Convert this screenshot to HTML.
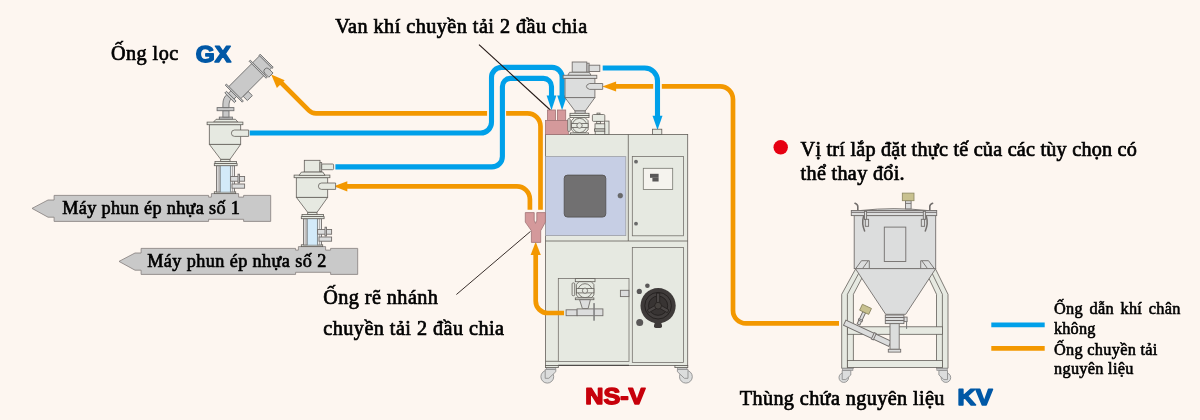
<!DOCTYPE html>
<html lang="vi">
<head>
<meta charset="utf-8">
<title>NS-V</title>
<style>
html,body{margin:0;padding:0;background:#fdf6f0;}
body{width:1200px;height:420px;overflow:hidden;position:relative;}
svg{display:block;position:absolute;left:0;top:0;}
text{font-family:"Liberation Serif",serif;fill:#000;}
.t{stroke:#000;stroke-width:.7px;}
.s21{font-size:20.2px;letter-spacing:.4px;}
.s19{font-size:18.2px;letter-spacing:.36px;stroke-width:.65px;}
.s17{font-size:16.3px;letter-spacing:.3px;stroke-width:.6px;}
.brand{font-family:"Liberation Sans",sans-serif;font-weight:700;font-size:23px;stroke-linejoin:round;text-rendering:geometricPrecision;}
.blue{fill:#0058a6;stroke:#0058a6;stroke-width:1.5px;}
.red{fill:#c7000b;stroke:#c7000b;stroke-width:1.5px;}
.pb{fill:none;stroke:#00a0e9;stroke-width:5.1;}
.po{fill:none;stroke:#f39800;stroke-width:4.7;}
.ab{fill:#00a0e9;}
.ao{fill:#f39800;}
.m{fill:#e6e9e1;stroke:#625e59;stroke-width:.8;}
.mp{stroke:#6e6a65;stroke-width:.75;}
.w{fill:#dcdddd;stroke:#8f8f8f;stroke-width:.9;}
.w2{fill:#c4c4c4;stroke:#8f8f8f;stroke-width:.7;}
.g{fill:#dcdddd;stroke:#726e6c;stroke-width:.9;}
.d{fill:#c9c9c9;stroke:#6f6f6f;stroke-width:.9;}
.bar{fill:#c9c9c9;stroke:#847e7c;stroke-width:.8;}
.pk{fill:#d4999b;stroke:#a07476;stroke-width:.8;}
.gl{fill:#d3eaf9;stroke:#808a90;stroke-width:.7;}
.ln{stroke:#231815;stroke-width:1.1;fill:none;}
</style>
</head>
<body>
<svg width="1200" height="420" viewBox="0 0 1200 420">
<defs><filter id="aa" filterUnits="userSpaceOnUse" x="0" y="0" width="1200" height="420" color-interpolation-filters="sRGB"><feOffset dx="0" dy="0"/></filter></defs>
<rect width="1200" height="420" fill="#fdf6f0"/>

<!-- ORANGE PIPES (below blue) -->
<g id="orange">
  <!-- to GX filter -->
  <path class="po" d="M540.500 209.800 V126.300 A13 13 0 0 0 527.500 113.300 H506.100"/>
  <path class="po" d="M487.100 113.300 H316 Q311.800 113.300 308.800 110.300 L279.500 81"/>
  <polygon class="ao" points="271.200,74.500 284.700,80.200 276.900,88"/>
  <!-- to loader 2 -->
  <path class="po" d="M529.900 209.800 V199.300 A13 13 0 0 0 516.900 186.300 H345"/>
  <polygon class="ao" points="333.800,186.300 347.300,181.200 347.300,191.400"/>
  <!-- from tank to hopper -->
  <path class="po" d="M839 323.400 H746 A13 13 0 0 1 733 310.400 V99.400 A13 13 0 0 0 720 86.400 H661.800"/>
  <path class="po" d="M653.200 86.400 H614"/>
  <polygon class="ao" points="602.200,86.400 616.100,81.400 616.100,91.400"/>
</g>

<!-- BLUE PIPES -->
<g id="bluepipes">
  <path class="pb" d="M249.700 133 H480.700 A10.800 10.800 0 0 0 491.500 122.200 V77.400 A10 10 0 0 1 501.500 67.400 H552.100 A10 10 0 0 1 562.100 77.400 V98"/>
  <polygon class="ab" points="562.100,110.200 557.200,95.400 567,95.400"/>
  <path class="pb" d="M335.400 166.900 H491.900 A10.500 10.500 0 0 0 502.400 156.400 V86.400 A8 8 0 0 1 510.400 78.400 H543.500 A8 8 0 0 1 551.500 86.400 V98"/>
  <polygon class="ab" points="551.500,110.200 546.600,95.400 556.400,95.400"/>
  <path class="pb" d="M602.700 68 H644.700 A12.800 12.800 0 0 1 657.500 80.800 V117"/>
  <polygon class="ab" points="657.500,130 652.500,115.800 662.500,115.800"/>
</g>

<!-- leader lines -->
<line class="ln" x1="479" y1="44.600" x2="550.300" y2="110"/>
<line class="ln" x1="456.400" y1="294.500" x2="530.500" y2="231.400" style="stroke-width:.9"/>

<!-- INJECTION MACHINE BARS -->
<g id="bar1">
  <path class="bar" d="M32 208.400 L48 200 H54.100 V195.400 H208.600 V197.100 H211.400 V193.600 H238.600 V197.100 H243.600 V195.400 H270.700 V221.400 H243.600 V219.300 H208.600 V221.400 H54.100 V217.200 H48 Z"/>
</g>
<use href="#bar1" x="87" y="53"/>

<!-- LOADER (shared lower part) -->
<g id="loader">
  <rect class="m" x="214.300" y="191.800" width="21.400" height="1.800"/>
  <rect class="g" x="216.500" y="165.700" width="3.500" height="26.300" style="fill:#e9e9e9"/>
  <rect class="g" x="230.500" y="165.700" width="4" height="26.300" style="fill:#e9e9e9"/>
  <path d="M218.200 165.700 V192 M232.500 165.700 V192" stroke="#8d8986" stroke-width=".6" fill="none"/>
  <rect class="gl" x="220.400" y="165.700" width="9.900" height="26.400"/>
  <rect class="g" x="230.600" y="176.500" width="14" height="4.700"/>
  <rect class="g" x="238" y="174.200" width="1.500" height="8.800"/>
  <rect class="g" x="232" y="184" width="12.600" height="4.200"/>
  <rect class="m" x="215" y="161.400" width="21.400" height="2.200"/>
  <rect class="m" x="214.300" y="163.600" width="22.800" height="2.100"/>
  <rect class="m" x="220.700" y="159.300" width="9.300" height="2.100"/>
  <polygon class="m" points="209.300,144.300 240.700,144.300 230,159.300 220.700,159.300"/>
  <rect class="m" x="209.300" y="124.700" width="31.400" height="19.600"/>
  <polygon class="m" points="213.600,122.100 216,119.300 235.500,119.300 237.900,122.100"/>
  <rect class="m" x="207.100" y="122.100" width="35.800" height="2.600"/>
  <path class="m" d="M248.600 130 H234.600 A3.200 3.200 0 0 0 234.600 136.400 H248.600 Z"/>
</g>
<use href="#loader" x="87" y="53"/>

<!-- loader 1 top: elbow + GX filter -->
<g id="gxfilter">
  <rect class="d" x="219.300" y="117.100" width="13.100" height="2"/>
  <rect class="d" x="222.900" y="110.700" width="6.100" height="6.400"/>
  <rect class="d" x="217.100" y="107.600" width="16.800" height="3.100"/>
  <path class="d" d="M222.900 107.600 V104 Q222.900 97.500 227.600 93.800 L232 98.200 Q229 100.500 229 104 V107.600 Z"/>
  <g transform="translate(234.300,93.100) rotate(-45)">
    <rect class="d" x="-4.500" y="-4" width="4.500" height="8"/>
    <rect class="d" x="-6.600" y="-6.800" width="2.300" height="13.600"/>
    <rect class="d" x="4" y="8.500" width="7" height="6"/>
    <rect class="d" x="0" y="-8.500" width="45" height="17"/>
    <path class="d" d="M35.600 13.200 V7.500 A3 3 0 0 1 41.600 7.500 V13.200 Z"/>
    <rect class="d" x="-0.800" y="-12" width="1.600" height="24"/>
    <rect class="d" x="33" y="-12" width="1.600" height="24"/>
    <rect class="d" x="44.200" y="-9.200" width="1.600" height="18.400"/>
  </g>
</g>

<!-- loader 2 top: motor -->
<g id="motor2">
  <rect class="m" x="304.300" y="160.300" width="15.700" height="11.800"/>
  <rect class="m" x="320" y="162.600" width="1.700" height="8.800"/>
  <rect class="m" x="321.700" y="164" width="11.900" height="5.700" rx="1"/>
  <polygon class="m" points="299,175.400 301.400,172.100 322.900,172.100 325,175.400"/>
</g>

<!-- MACHINE NS-V -->
<g id="machine">
  <rect class="m" x="545.600" y="134.400" width="142.100" height="231.100"/>
  <line class="m" x1="545.600" y1="241" x2="687.700" y2="241"/>
  <line class="m" x1="628.300" y1="134.400" x2="628.300" y2="241"/>
  <rect x="545.600" y="156.600" width="80.200" height="79" fill="#c6cee4" stroke="#9c9ea6" stroke-width=".8"/>
  <rect x="564.200" y="175.100" width="41.600" height="42" rx="3.300" fill="#717071" stroke="#4f4c4b" stroke-width=".8"/>
  <circle cx="620.300" cy="195.700" r="2.400" fill="#6a6a6a" stroke="#444" stroke-width=".4"/>
  <rect class="m mp" x="632.300" y="156.600" width="51.100" height="79.200"/>
  <rect x="643.300" y="168.300" width="29.400" height="21.200" fill="#f5f3ee" stroke="#77776f" stroke-width=".8"/>
  <rect x="650" y="173.800" width="8.600" height="4" fill="#595757"/>
  <rect x="652.400" y="177.800" width="6.200" height="3.700" fill="#595757"/>
  <circle cx="636" cy="161.700" r="1.900" fill="#6a6a6a"/>
  <circle cx="636" cy="223.700" r="1.900" fill="#6a6a6a"/>
  <rect class="m mp" x="632.300" y="247.400" width="51.300" height="115"/>
  <rect class="m mp" x="558.300" y="278.400" width="70.700" height="83"/>
  <line class="m" x1="545.600" y1="361.300" x2="558.100" y2="361.300"/>
  <line x1="558.100" y1="365.300" x2="629" y2="365.300" stroke="#4f4b49" stroke-width="1.200"/>
  <rect class="m" x="652.500" y="129.200" width="9.300" height="5.200"/>
  <!-- blower -->
  <rect x="654.600" y="319" width="6.800" height="6.500" fill="#3e3a39"/>
  <rect x="654" y="323.800" width="8" height="4.200" rx="1.800" fill="#3e3a39"/>
  <circle cx="658.100" cy="305.700" r="17.600" fill="#3e3a39"/>
  <circle cx="658.100" cy="305.700" r="13.300" fill="#423e3d" stroke="#231f1e" stroke-width=".9"/>
  <circle cx="658.100" cy="305.700" r="9.600" fill="#383433" stroke="#231f1e" stroke-width=".9"/>
  <path d="M656.500 302.500 V293.200 H659.700 V302.500 M655.300 305.300 L647.300 309.900 L648.900 312.700 L656.900 308.100 M660.900 305.300 L668.900 309.900 L667.300 312.700 L659.300 308.100" fill="#4a4645" stroke="#231f1e" stroke-width=".8"/>
  <circle cx="658.100" cy="305.700" r="3.400" fill="#46423f" stroke="#231f1e" stroke-width=".8"/>
  <circle cx="639.300" cy="291.400" r="2.600" fill="#595757"/>
  <circle cx="647.400" cy="285.700" r="2.300" fill="#595757"/>
  <circle cx="639.700" cy="322.600" r="3.500" fill="#595757"/>
  <rect class="g" x="620.400" y="290.300" width="8.500" height="6.300"/>
  <!-- casters -->
  <g id="mcaster">
    <circle class="w" cx="547.300" cy="376.700" r="6.400"/>
    <path class="w" d="M545.200 369.400 H555.800 V371.700 L548.800 378.300 H545.200 Z"/>
    <rect class="w2" x="546.300" y="367.600" width="9.500" height="1.800"/>
    <rect class="m" x="545.400" y="365.500" width="12.900" height="2.100"/>
  </g>
  <use href="#mcaster" transform="translate(1233.200,0) scale(-1,1)"/>
</g>

<!-- orange from machine to splitter -->
<path class="po" d="M564 313 H547.700 A12 12 0 0 1 535.700 301 V253"/>
<polygon class="ao" points="535.700,241.800 540.800,255 530.600,255"/>

<!-- PINK VALVE + SPLITTER -->
<g id="pink">
  <rect class="pk" x="547.500" y="110" width="8" height="10.800"/>
  <rect class="pk" x="557.400" y="110" width="8.300" height="10.800"/>
  <rect class="pk" x="545.600" y="120.400" width="22.700" height="14.100"/>
  <path class="pk" d="M525.300 212.600 H534.200 V220.200 L535.500 223.400 L536.800 220.200 V212.600 H545.400 V222.100 L540.700 230.700 V242.400 H531.400 V230.700 L525.300 222.100 Z"/>
</g>

<!-- HOPPER ON MACHINE -->
<g id="hopper3">
  <rect class="g" x="586.800" y="63.200" width="2.300" height="8.900"/>
  <rect class="g" x="572.200" y="62" width="14.600" height="10.200"/>
  <rect class="g" x="589.100" y="65.200" width="10.700" height="6.300"/>
  <polygon class="g" points="567.800,75.300 569.500,72.300 589.300,72.300 591,75.300"/>
  <rect class="g" x="563.100" y="75.300" width="33.700" height="3.100"/>
  <rect class="g" x="565" y="78.400" width="29.900" height="19.200"/>
  <polygon class="g" points="565,97.600 594.900,97.600 585.200,111 575,111"/>
  <rect class="g" x="575" y="111" width="10.200" height="2.300"/>
  <path class="g" d="M602.700 83.500 H589.600 Q586.400 84.500 586.400 86.450 Q586.400 88.400 589.600 89.400 H602.700 Z"/>
  <!-- rotary valve -->
  <rect class="m" x="567.800" y="118.600" width="2.400" height="12.800" rx="1"/>
  <rect class="m" x="570" y="113.300" width="19" height="2.200"/>
  <rect class="m" x="570" y="115.500" width="19" height="2.100"/>
  <path class="m" d="M574.500 117.600 H585 L588.100 120.700 V129.800 L585 132.900 H574.500 L571.400 129.800 V120.700 Z"/>
  <circle class="m" cx="579.500" cy="125.500" r="7.100"/>
  <rect class="m" x="571.400" y="123.600" width="16.700" height="3.900"/>
  <circle class="m" cx="579.500" cy="125.500" r="2.700"/>
  <rect class="m" x="570.300" y="132.900" width="18.300" height="1.600"/>
  <!-- solenoid -->
  <rect class="m" x="604.500" y="121.100" width="4.500" height="13.300"/>
  <rect class="m" x="597" y="113.100" width="3" height="1.600"/>
  <rect class="m" x="592.400" y="114.500" width="12.400" height="6.900" rx="1.200"/>
  <rect class="m" x="596.700" y="121.400" width="3.800" height="2.400"/>
  <rect class="m" x="595" y="123.800" width="9.800" height="5.200"/>
  <rect class="m" x="594.500" y="129" width="10.300" height="2.200"/>
  <rect class="m" x="595.200" y="131.200" width="9.600" height="3.200"/>
</g>

<!-- LOWER VALVE IN MACHINE -->
<g id="lowervalve">
  <rect class="m" x="572.100" y="282.900" width="2.600" height="12.800" rx="1"/>
  <rect class="m" x="575.300" y="278.600" width="19.700" height="3.100"/>
  <path class="m" d="M579 281.700 H591.300 L593.900 284.500 V295 L591.300 297.900 H579 L576.400 295 V284.500 Z"/>
  <circle class="m" cx="585" cy="290.700" r="7"/>
  <rect class="m" x="576.400" y="288.600" width="17.500" height="4.300"/>
  <circle class="m" cx="585" cy="290.700" r="2.600"/>
  <rect class="m" x="575.300" y="297.900" width="18.600" height="1.800"/>
  <polygon class="g" points="579.600,299.700 590.400,299.700 588.100,308.600 582.400,308.600"/>
  <rect class="g" x="566.100" y="309.800" width="11" height="5.900"/>
  <rect class="g" x="577.100" y="308.900" width="25.800" height="6.800"/>
  <rect x="593.300" y="303.100" width="1.500" height="17.600" fill="#7d7d7d"/>
</g>

<!-- TANK KV -->
<g id="tank">
  <!-- frame legs -->
  <path class="m" d="M841.700 368.300 V294.300 L855.400 269.300 H866.500 L853.400 294.300 V368.300 Z"/>
  <path class="m" d="M847.400 368.300 V294.300 L860.900 269.300" style="fill:none"/>
  <path class="m" d="M948 368.300 V294.300 L935.700 269.300 H924.600 L936.500 294.300 V368.300 Z"/>
  <path class="m" d="M942.400 368.300 V294.300 L930.200 269.300" style="fill:none"/>
  <rect class="m" x="847.400" y="326.800" width="95" height="7.500"/>
  <rect class="m" x="847.400" y="360.500" width="95" height="7"/>
  <!-- casters -->
  <g id="tcaster">
    <circle class="w" cx="843.800" cy="377.600" r="4.800"/>
    <path class="w" d="M842.200 370.400 H850.800 V375 L845.800 379.600 H842.200 Z"/>
    <rect class="w2" x="842.500" y="368.300" width="10.400" height="2.100"/>
  </g>
  <use href="#tcaster" transform="translate(1789.700,0) scale(-1,1)"/>
  <!-- body -->
  <path class="g" d="M860.700 210.500 Q894 206.800 927.500 210.500 Z"/>
  <rect class="g" x="905.500" y="200.700" width="5.600" height="8.200"/>
  <line class="g" x1="905.500" y1="203.400" x2="911.100" y2="203.400"/>
  <rect x="902.300" y="193.100" width="11.700" height="7.600" fill="#c8c18f" stroke="#8a8560" stroke-width=".8"/>
  <path d="M857.800 210.500 V206.500 Q857.800 204.500 855 203.300 M929.800 210.500 V206.500 Q929.800 204.500 932.600 203.300" fill="none" stroke="#726e6c" stroke-width="1.600" stroke-linecap="round"/>
  <rect class="g" x="854.200" y="215.600" width="81.500" height="53"/>
  <rect class="g" x="851.300" y="210.500" width="85.400" height="5.100"/>
  <line x1="851.300" y1="212.300" x2="936.700" y2="212.300" stroke="#6f6a69" stroke-width="1"/>
  <rect class="g" x="884.300" y="227.100" width="21.500" height="34.400"/>
  <!-- latches -->
  <g id="latch">
    <path d="M863.600 216.300 Q861.400 223.500 864.600 231" fill="none" stroke="#726e6c" stroke-width="1.500" stroke-linecap="round"/>
    <rect class="g" x="864.500" y="211.300" width="2.100" height="8.200"/>
    <rect class="g" x="865.300" y="219.300" width="3.300" height="7"/>
  </g>
  <use href="#latch" transform="translate(1789.900,0) scale(-1,1)"/>
  <!-- leg brackets -->
  <path class="g" d="M855.700 268.600 L861.500 260.700 H869.300 V268.600 M862.500 268.600 L868 261" />
  <path class="g" d="M934.300 268.600 L928.500 260.700 H920.700 V268.600 M927.500 268.600 L922 261" />
  <!-- cone -->
  <polygon class="g" points="855.400,268.600 935.700,268.600 905.700,314.300 885.700,314.300"/>
  <!-- conveyor -->
  <g transform="translate(844.700,322.700) rotate(25)">
    <rect class="g" x="0" y="-2.900" width="50" height="5.800"/>
    <rect class="g" x="31" y="-3.500" width="2.200" height="7"/>
  </g>
  <g transform="translate(858.900,323.600) rotate(-65)">
    <rect class="g" x="-1" y="-1.500" width="13.500" height="3"/>
    <rect class="g" x="3" y="-2" width="1.500" height="4"/>
    <rect x="12.500" y="-5" width="6.500" height="10" fill="#c8c18f" stroke="#8a8560" stroke-width=".8"/>
  </g>
  <!-- outlet -->
  <rect class="g" x="903.900" y="317.100" width="3.200" height="4.500"/>
  <line x1="906.600" y1="321.600" x2="906.600" y2="328.900" stroke="#777" stroke-width="1"/>
  <rect class="g" x="890" y="323.600" width="9.200" height="25.700"/>
  <rect class="g" x="888.300" y="349.300" width="12.400" height="2.800"/>
  <rect class="g" x="885.300" y="315" width="18.600" height="8.600"/>
  <line x1="885.300" y1="317.500" x2="903.900" y2="317.500" stroke="#6f6a69" stroke-width="1"/>
  <line x1="885.300" y1="320.500" x2="903.900" y2="320.500" stroke="#6f6a69" stroke-width="1"/>
</g>

<!-- LEGEND -->
<line x1="991.300" y1="324.800" x2="1044.700" y2="324.800" stroke="#00a0e9" stroke-width="4.800"/>
<line x1="991.300" y1="348.400" x2="1044.700" y2="348.400" stroke="#f39800" stroke-width="4.800"/>

<!-- LABELS -->
<circle cx="780.700" cy="147.300" r="7.200" fill="#e60012"/>
<!-- TEXT (rendered through a no-op filter so glyph edges use grayscale antialiasing) -->
<g filter="url(#aa)">
  <text class="t s19" x="62.300" y="214.200" style="letter-spacing:.33px">Máy phun ép nhựa số 1</text>
  <text class="t s19" x="147.300" y="267.200" style="letter-spacing:.4px">Máy phun ép nhựa số 2</text>
  <text class="t s17" x="1054" y="314.400" style="letter-spacing:.3px;word-spacing:2.200px">Ống dẫn khí chân</text>
  <text class="t s17" x="1054" y="334.300" style="letter-spacing:.16px">không</text>
  <text class="t s17" x="1054" y="354.500">Ống chuyền tải</text>
  <text class="t s17" x="1054" y="374.200">nguyên liệu</text>
  <text class="t s21" x="110.900" y="60.200" style="letter-spacing:.48px">Ống lọc</text>
  <text class="brand blue" transform="translate(195.700,61.900) scale(1.06,1)">GX</text>
  <text class="t s21" x="335.200" y="33.300" style="letter-spacing:.47px">Van khí chuyền tải 2 đầu chia</text>
  <text class="t s21" x="323.300" y="304" style="letter-spacing:.43px">Ống rẽ nhánh</text>
  <text class="t s21" x="323.300" y="335.400" style="letter-spacing:.46px">chuyền tải 2 đầu chia</text>
  <text class="t s21" x="800.600" y="156" style="letter-spacing:.225px">Vị trí lắp đặt thực tế của các tùy chọn có</text>
  <text class="t s21" x="800.600" y="180" style="letter-spacing:.31px">thể thay đổi.</text>
  <text class="t s21" x="739.700" y="405" style="letter-spacing:.39px">Thùng chứa nguyên liệu</text>
  <text class="brand blue" transform="translate(957.600,404.900) scale(1.1,1)">KV</text>
  <text class="brand red" transform="translate(585.200,404) scale(1.095,1)">NS-V</text>
</g>
</svg>
</body>
</html>
